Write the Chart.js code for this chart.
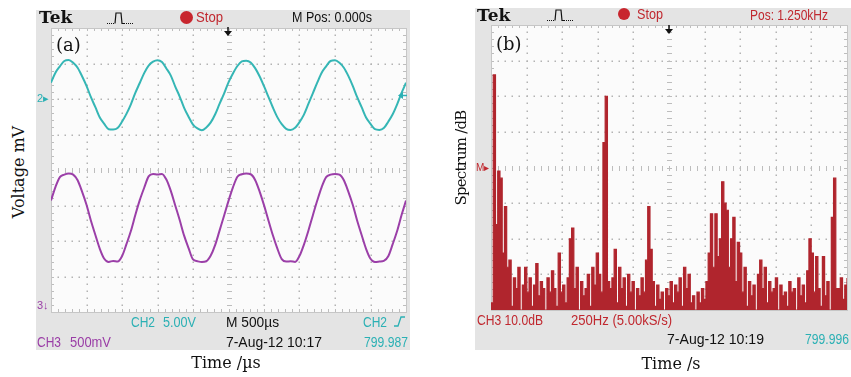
<!DOCTYPE html>
<html lang="en">
<head>
<meta charset="UTF-8">
<title>Scope captures</title>
<script src="https://cdn.jsdelivr.net/npm/chart.js@4.4.0/dist/chart.umd.min.js"></script>
<style>
  html, body { margin: 0; padding: 0; background: #fff; }
  body { width: 851px; height: 377px; position: relative; overflow: hidden; }
  .frame { position: absolute; background: #e4e4e4; }
  .t { position: absolute; font-family: "Liberation Sans", Arial, sans-serif; font-size: 14px; line-height: 1; white-space: pre; color: #111; }
  .s { position: absolute; font-family: "DejaVu Serif", serif; line-height: 1; white-space: pre; color: #111; }
  .cy { color: #2bb0b4; }
  .pu { color: #9a3da6; }
  .rd { color: #c0282f; }
  .dot { position: absolute; border-radius: 50%; background: #c8262e; }
  canvas, svg { position: absolute; }
</style>
</head>
<body>
<div class="frame" style="left:36px;top:10px;width:374px;height:340px"></div>
<div class="frame" style="left:475px;top:8px;width:376px;height:342px"></div>

<canvas id="scopeA" width="363" height="292" style="left:47px;top:24px"></canvas>
<canvas id="scopeB" width="364" height="293" style="left:487px;top:21px"></canvas>

<!-- panel (a) screen text -->
<div class="s" style="left:39px;top:9px;font-size:17px;font-weight:bold">Tek</div>
<svg style="left:107px;top:11px" width="28" height="14"><polyline points="0,12.5 8,12.5" stroke="#111" stroke-dasharray="1 1"/><polyline points="8,12.5 9,2 14,2 15,12.5 17,12.5" fill="none" stroke="#111" stroke-width="1.2"/><polyline points="17,12.5 26,12.5" stroke="#111" stroke-dasharray="1 1"/></svg>
<div class="dot" style="left:180px;top:11px;width:13px;height:13px"></div>
<div class="t rd" data-w="27" style="left:196px;top:10px">Stop</div>
<div class="t" data-w="80" style="left:292px;top:10px">M Pos: 0.000s</div>
<div class="s" style="left:56px;top:36px;font-size:18px">(a)</div>
<svg style="left:223px;top:27px" width="10" height="10"><line x1="5" y1="0" x2="5" y2="5" stroke="#111" stroke-width="1.5"/><polygon points="1,4 9,4 5,9" fill="#111"/></svg>
<div class="t cy" style="left:37px;top:93px;font-size:11px">2▸</div>
<svg style="left:398px;top:91px" width="9" height="9"><polygon points="0,4.5 5,1 5,8" fill="#2bb0b4"/><line x1="5" y1="4.5" x2="9" y2="4.5" stroke="#2bb0b4" stroke-width="1.5"/></svg>
<div class="t pu" style="left:37px;top:300px;font-size:11px">3↓</div>
<div class="t cy" data-w="24" style="left:131px;top:315px">CH2</div>
<div class="t cy" data-w="33" style="left:163px;top:315px">5.00V</div>
<div class="t" data-w="53" style="left:226px;top:315px">M 500µs</div>
<div class="t cy" data-w="24" style="left:363px;top:315px">CH2</div>
<svg style="left:394px;top:316px" width="11" height="11"><polyline points="0,10 4,10 7,1 11,1" fill="none" stroke="#2bb0b4" stroke-width="1.3"/></svg>
<div class="t pu" data-w="24" style="left:37px;top:335px">CH3</div>
<div class="t pu" data-w="41" style="left:70px;top:335px">500mV</div>
<div class="t" data-w="96" style="left:226px;top:335px">7-Aug-12 10:17</div>
<div class="t cy" data-w="44" style="left:364px;top:335px">799.987</div>
<div class="s" style="left:19px;top:172px;font-size:16px;transform:translate(-50%,-50%) rotate(-90deg)">Voltage mV</div>
<div class="s" style="left:226px;top:355px;font-size:16px;transform:translateX(-50%)">Time /µs</div>

<!-- panel (b) screen text -->
<div class="s" style="left:477px;top:7px;font-size:17px;font-weight:bold">Tek</div>
<svg style="left:547px;top:8px" width="28" height="14"><polyline points="0,12.5 8,12.5" stroke="#111" stroke-dasharray="1 1"/><polyline points="8,12.5 9,2 14,2 15,12.5 17,12.5" fill="none" stroke="#111" stroke-width="1.2"/><polyline points="17,12.5 26,12.5" stroke="#111" stroke-dasharray="1 1"/></svg>
<div class="dot" style="left:618px;top:8px;width:12px;height:12px"></div>
<div class="t rd" data-w="26" style="left:637px;top:7px">Stop</div>
<div class="t rd" data-w="78" style="left:750px;top:8px">Pos: 1.250kHz</div>
<div class="s" style="left:496px;top:35px;font-size:18px">(b)</div>
<svg style="left:664px;top:25px" width="10" height="10"><line x1="5" y1="0" x2="5" y2="5" stroke="#111" stroke-width="1.5"/><polygon points="1,4 9,4 5,9" fill="#111"/></svg>
<div class="t rd" style="left:476px;top:163px;font-size:10px">M▸</div>
<div class="t rd" data-w="66" style="left:477px;top:313px">CH3 10.0dB</div>
<div class="t rd" data-w="101" style="left:571px;top:313px">250Hz (5.00kS/s)</div>
<div class="t" data-w="97" style="left:667px;top:332px">7-Aug-12 10:19</div>
<div class="t cy" data-w="44" style="left:805px;top:332px">799.996</div>
<div class="s" style="left:461px;top:158px;font-size:15px;letter-spacing:-0.8px;transform:translate(-50%,-50%) rotate(-90deg)">Spectrum /dB</div>
<div class="s" style="left:671px;top:356px;font-size:16px;transform:translateX(-50%)">Time /s</div>

<script>
// squeeze the scope readouts to the narrow Tek lettering
document.querySelectorAll('[data-w]').forEach(el => {
  const s = +el.dataset.w / el.getBoundingClientRect().width;
  el.style.transformOrigin = 'left top';
  el.style.transform = 'scaleX(' + s.toFixed(3) + ')';
});

// screen divisions
const xDivisions = 10;
const yDivisions = 8;

// panel (a): 500 us/div, one sample every 1/8 division, values in screen divisions
const timeStepUs = 62.5;
const ch2Div = [
  2.46, 2.74, 2.92, 3.07, 3.10, 3.02, 2.88, 2.64, 2.37, 2.05, 1.77, 1.48, 1.30, 1.15, 1.14, 1.18, 1.36, 1.58, 1.85, 2.17,
  2.45, 2.73, 2.94, 3.05, 3.09, 3.04, 2.86, 2.66, 2.35, 2.07, 1.75, 1.50, 1.28, 1.17, 1.12, 1.20, 1.34, 1.57, 1.87, 2.15,
  2.47, 2.72, 2.93, 3.06, 3.08, 3.03, 2.87, 2.64, 2.36, 2.06, 1.76, 1.49, 1.29, 1.16, 1.13, 1.19, 1.35, 1.56, 1.86, 2.16,
  2.46, 2.74, 2.92, 3.07, 3.09, 3.02, 2.88, 2.65, 2.37, 2.05, 1.77, 1.48, 1.30, 1.15, 1.13, 1.18, 1.36, 1.57, 1.85, 2.17,
  2.46
];
const ch3Div = [
  -0.86, -0.48, -0.20, -0.13, -0.10, -0.13, -0.29, -0.61, -0.98, -1.43, -1.83, -2.22, -2.50, -2.59, -2.56, -2.58, -2.43, -2.09, -1.72, -1.27,
  -0.85, -0.50, -0.18, -0.11, -0.13, -0.11, -0.27, -0.59, -1.00, -1.41, -1.85, -2.20, -2.52, -2.57, -2.59, -2.57, -2.41, -2.11, -1.70, -1.29,
  -0.87, -0.49, -0.19, -0.12, -0.10, -0.12, -0.28, -0.60, -0.99, -1.42, -1.84, -2.21, -2.51, -2.58, -2.57, -2.59, -2.42, -2.10, -1.71, -1.28,
  -0.86, -0.48, -0.20, -0.13, -0.11, -0.13, -0.29, -0.61, -0.98, -1.43, -1.83, -2.22, -2.50, -2.59, -2.58, -2.56, -2.43, -2.09, -1.72, -1.27,
  -0.86
];

// panel (b): 0..2500 Hz span, 10 dB/div, dB above screen bottom
const spanHz = 2500;
const spectrumDb = [
  2, 66, 24, 39, 37, 16, 29, 12, 14, 1,
  9, 6, 12, 0, 7, 12, 5, 9, 1, 7,
  13, 4, 8, 6, 0, 9, 5, 11, 6, 1,
  16, 5, 7, 2, 9, 20, 23, 6, 12, 0,
  8, 4, 6, 10, 1, 12, 7, 16, 10, 5,
  47, 60, 8, 6, 9, 17, 2, 12, 6, 9,
  1, 10, 5, 8, 0, 6, 4, 9, 5, 14,
  29, 17, 8, 1, 7, 3, 5, 0, 6, 4,
  8, 2, 7, 5, 9, 1, 12, 6, 10, 2,
  4, 0, 5, 2, 6, 3, 8, 16, 27, 12,
  27, 15, 20, 36, 30, 28, 12, 20, 26, 8,
  19, 16, 5, 12, 1, 8, 4, 7, 0, 10,
  14, 6, 12, 2, 8, 5, 6, 9, 0, 7,
  4, 5, 1, 8, 5, 6, 0, 9, 4, 7,
  2, 11, 20, 16, 5, 15, 6, 1, 15, 4,
  8, 0, 26, 37, 6, 6, 9, 3, 7, 9
];

const CYAN = '#35b6b5';
const PURPLE = '#9b3fa8';
const RED = '#b0252d';

// white screen behind the trace
const screenBg = {
  id: 'screenBg',
  beforeDraw(chart) {
    const { ctx, chartArea: a } = chart;
    ctx.save();
    ctx.fillStyle = '#fbfbfb';
    ctx.fillRect(a.left, a.top, a.right - a.left, a.bottom - a.top);
    ctx.restore();
  }
};

// Tek style graticule: dotted division lines, ticked centre lines and edges
const graticule = {
  id: 'graticule',
  beforeDatasetsDraw(chart) {
    const { ctx, chartArea: a, scales: { x, y } } = chart;
    const px = f => x.getPixelForValue(x.min + (x.max - x.min) * f);
    const py = f => y.getPixelForValue(y.min + (y.max - y.min) * f);
    ctx.save();
    ctx.fillStyle = '#b3b3b3';
    // dotted lines
    for (let i = 1; i < xDivisions; i++) {
      if (i === xDivisions / 2) continue;
      const gx = Math.round(px(i / xDivisions));
      for (let j = 1; j < yDivisions * 5; j++) ctx.fillRect(gx - 0.5, Math.round(py(j / (yDivisions * 5))) - 0.5, 1.5, 1.5);
    }
    for (let j = 1; j < yDivisions; j++) {
      if (j === yDivisions / 2) continue;
      const gy = Math.round(py(j / yDivisions));
      for (let i = 1; i < xDivisions * 5; i++) ctx.fillRect(Math.round(px(i / (xDivisions * 5))) - 0.5, gy - 0.5, 1.5, 1.5);
    }
    // centre lines with minor ticks
    ctx.strokeStyle = '#bdbdbd';
    ctx.lineWidth = 1;
    ctx.beginPath();
    const cx = Math.round(px(0.5)) + 0.5, cy = Math.round(py(0.5)) + 0.5;
    for (let i = 1; i < xDivisions * 5; i++) {
      const tx = Math.round(px(i / (xDivisions * 5))) + 0.5;
      ctx.moveTo(tx, cy - 2.5); ctx.lineTo(tx, cy + 2.5);
      ctx.moveTo(tx, a.top); ctx.lineTo(tx, a.top + 3);
      ctx.moveTo(tx, a.bottom); ctx.lineTo(tx, a.bottom - 3);
    }
    for (let j = 1; j < yDivisions * 5; j++) {
      const ty = Math.round(py(j / (yDivisions * 5))) + 0.5;
      ctx.moveTo(cx - 2.5, ty); ctx.lineTo(cx + 2.5, ty);
      ctx.moveTo(a.left, ty); ctx.lineTo(a.left + 3, ty);
      ctx.moveTo(a.right, ty); ctx.lineTo(a.right - 3, ty);
    }
    ctx.stroke();
    ctx.strokeStyle = '#c6c6c6';
    ctx.strokeRect(Math.round(a.left) + 0.5, Math.round(a.top) + 0.5, Math.round(a.right - a.left), Math.round(a.bottom - a.top));
    ctx.restore();
  }
};

const baseOptions = (xMax, yMin, yMax) => ({
  responsive: false,
  animation: false,
  devicePixelRatio: 1,
  layout: { padding: 4 },
  plugins: { legend: { display: false }, tooltip: { enabled: false } },
  elements: { point: { radius: 0 } },
  scales: {
    x: { type: 'linear', min: 0, max: xMax, display: false },
    y: { type: 'linear', min: yMin, max: yMax, display: false }
  }
});

new Chart(document.getElementById('scopeA'), {
  type: 'line',
  data: {
    datasets: [
      { label: 'CH2', data: ch2Div.map((v, i) => ({ x: i * timeStepUs, y: v })), borderColor: CYAN, borderWidth: 2, cubicInterpolationMode: 'monotone' },
      { label: 'CH3', data: ch3Div.map((v, i) => ({ x: i * timeStepUs, y: v })), borderColor: PURPLE, borderWidth: 2, cubicInterpolationMode: 'monotone' }
    ]
  },
  options: baseOptions(5000, -yDivisions / 2, yDivisions / 2),
  plugins: [screenBg, graticule]
});

const binHz = spanHz / (spectrumDb.length - 1);
new Chart(document.getElementById('scopeB'), {
  type: 'line',
  data: {
    datasets: [
      { label: 'FFT', data: spectrumDb.map((v, i) => ({ x: i * binHz, y: v })), borderColor: RED, backgroundColor: RED, fill: 'origin', borderWidth: 1.2, stepped: true }
    ]
  },
  options: baseOptions(spanHz, 0, yDivisions * 10),
  plugins: [screenBg, graticule]
});
</script>
</body>
</html>
